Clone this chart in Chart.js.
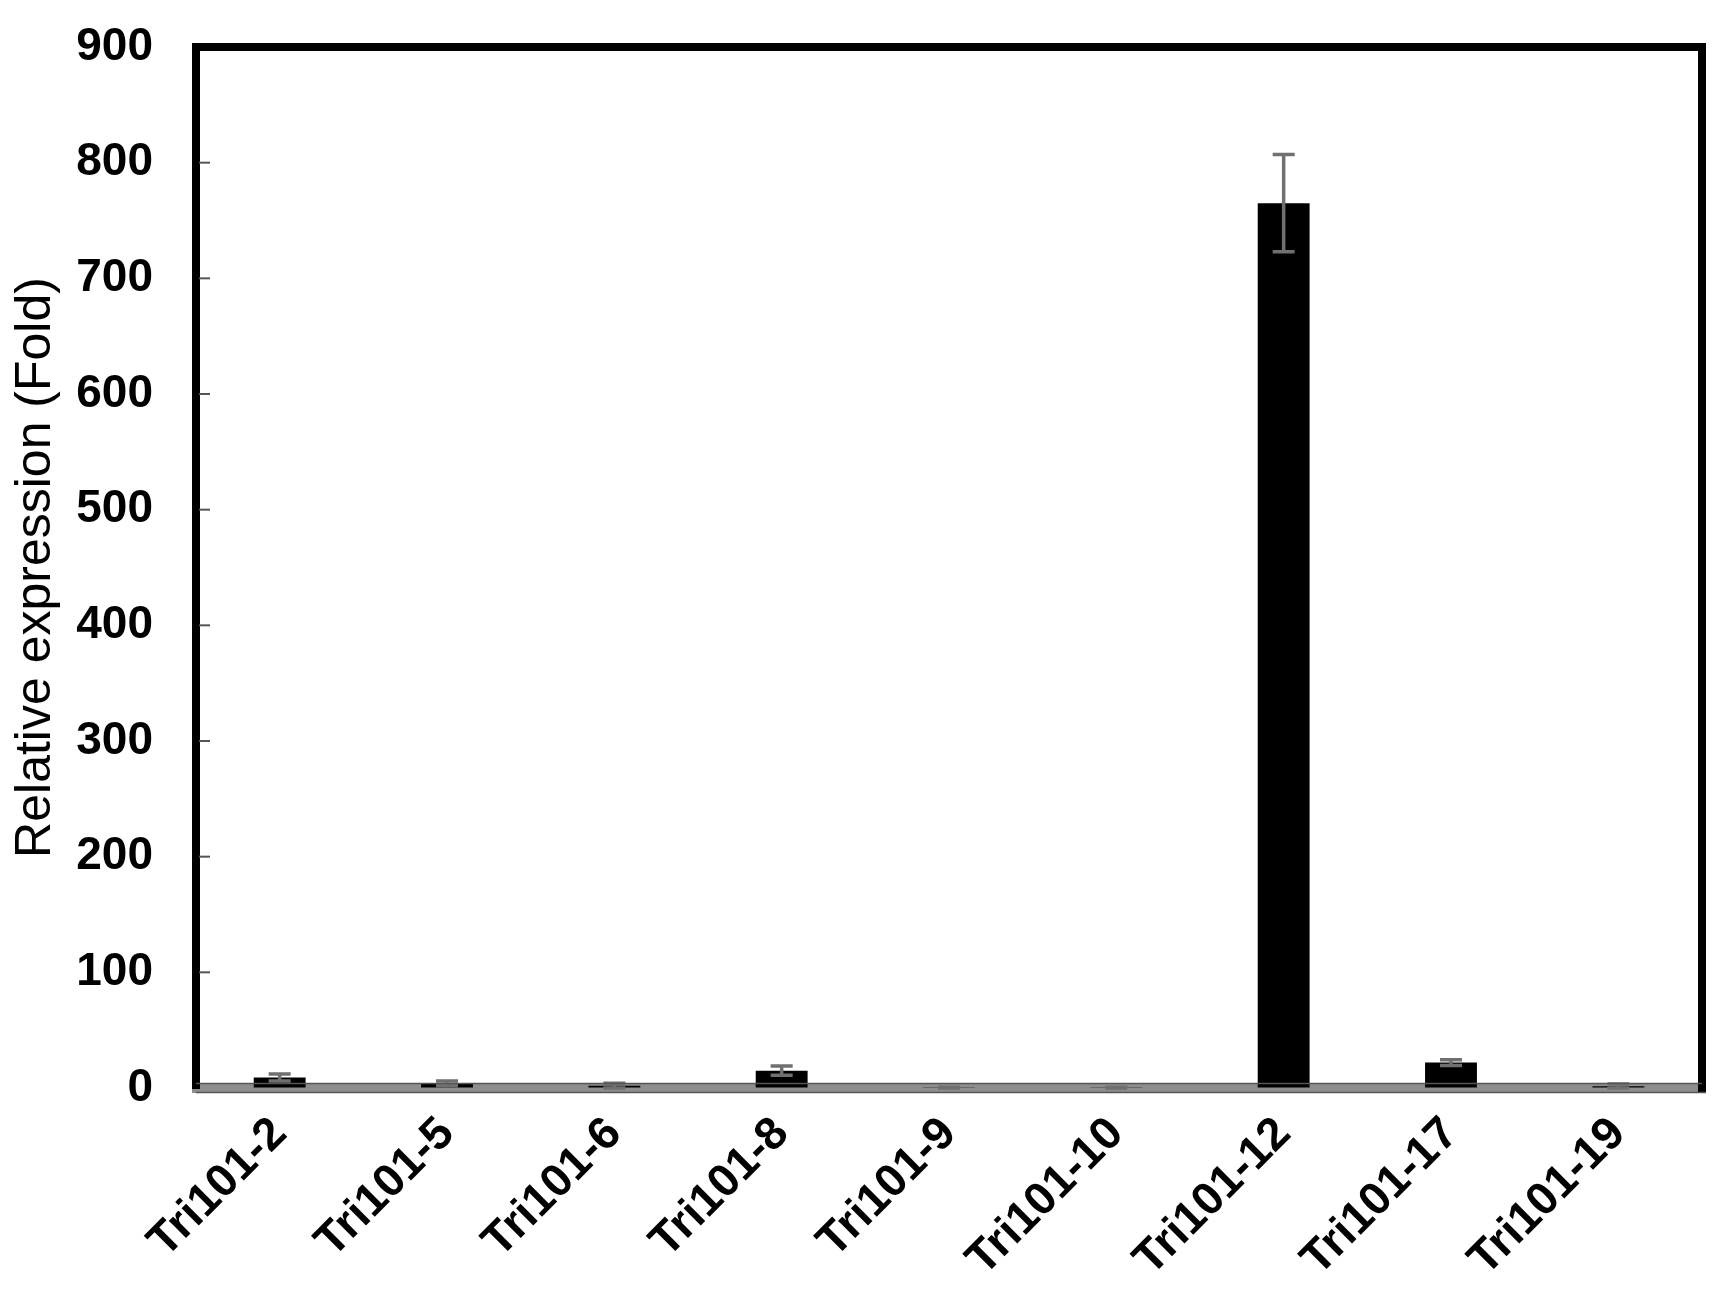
<!DOCTYPE html>
<html>
<head>
<meta charset="utf-8">
<script src="https://cdn.jsdelivr.net/npm/chart.js@4"></script>
<style>
  html, body { margin: 0; padding: 0; background: #fff; }
  #wrap { width: 1728px; height: 1305px; }
</style>
</head>
<body>
<div id="wrap"><canvas id="c" width="1728" height="1305"></canvas></div>
<script>
const categories = ["Tri101-2", "Tri101-5", "Tri101-6", "Tri101-8", "Tri101-9", "Tri101-10", "Tri101-12", "Tri101-17", "Tri101-19"];
const expression = [9, 4, 2, 15, 0.3, 0.3, 765, 22, 1.5];
const errors = [3, 2, 2, 4, 0.3, 0.3, 42, 2.5, 2];
const yTicks = [0, 100, 200, 300, 400, 500, 600, 700, 800, 900];
const yTitle = "Relative expression (Fold)";

const FONT = "'Liberation Sans', Arial, Helvetica, sans-serif";

const framePlugin = {
  id: 'frame',
  afterDatasetsDraw(chart) {
    const ctx = chart.ctx;
    const y = chart.scales.y;
    const meta = chart.getDatasetMeta(0);
    ctx.save();
    ctx.strokeStyle = '#707070';
    ctx.lineWidth = 3.5;
    meta.data.forEach((bar, i) => {
      const v = expression[i], e = errors[i];
      const yt = y.getPixelForValue(v + e);
      const yb = y.getPixelForValue(Math.max(0, v - e));
      const x = bar.x;
      ctx.beginPath();
      ctx.moveTo(x, yt); ctx.lineTo(x, yb);
      ctx.moveTo(x - 11, yt); ctx.lineTo(x + 11, yt);
      ctx.moveTo(x - 11, yb); ctx.lineTo(x + 11, yb);
      ctx.stroke();
    });
    ctx.restore();
  },
  afterDraw(chart) {
    const ctx = chart.ctx;
    const a = chart.chartArea;
    const y = chart.scales.y;
    ctx.save();
    ctx.strokeStyle = '#555';
    ctx.lineWidth = 2;
    y.ticks.forEach(t => {
      const py = y.getPixelForValue(t.value);
      if (t.value === 0 || t.value === 900) return;
      ctx.beginPath();
      ctx.moveTo(a.left + 3, py); ctx.lineTo(a.left + 14, py);
      ctx.stroke();
    });
    ctx.strokeStyle = '#000';
    ctx.lineWidth = 8;
    ctx.lineCap = 'square';
    ctx.beginPath();
    ctx.moveTo(a.left, a.top);
    ctx.lineTo(a.right, a.top);
    ctx.lineTo(a.right, a.bottom);
    ctx.stroke();
    ctx.lineCap = 'butt';
    ctx.strokeStyle = '#555';
    ctx.lineWidth = 1.5;
    ctx.beginPath();
    ctx.moveTo(a.left, a.bottom - 4.5); ctx.lineTo(a.right, a.bottom - 4.5);
    ctx.moveTo(a.left, a.bottom + 4.5); ctx.lineTo(a.right + 4, a.bottom + 4.5);
    ctx.stroke();
    ctx.restore();
  }
};

new Chart(document.getElementById('c'), {
  type: 'bar',
  data: {
    labels: categories,
    datasets: [{
      data: expression,
      backgroundColor: '#000',
      borderWidth: 0,
      barPercentage: 0.31,
      categoryPercentage: 1.0
    }]
  },
  options: {
    responsive: false,
    devicePixelRatio: 1,
    animation: false,
    layout: { padding: { left: 0, top: 47, right: 26, bottom: 0 } },
    plugins: { legend: { display: false }, tooltip: { enabled: false } },
    scales: {
      x: {
        z: 1,
        grid: { display: true, drawOnChartArea: false, drawTicks: false },
        border: { display: true, color: '#8e8e8e', width: 9 },
        ticks: {
          autoSkip: false,
          maxRotation: 45,
          minRotation: 45,
          padding: 19,
          color: '#000',
          font: { family: FONT, size: 46, weight: 'bold' }
        },
        afterFit(scale) { scale.height = 217; }
      },
      y: {
        min: 0,
        max: 900,
        afterBuildTicks(scale) { scale.ticks = yTicks.map(v => ({ value: v })); },
        grid: { display: true, drawOnChartArea: false, drawTicks: true, tickLength: 33, tickColor: 'rgba(0,0,0,0)' },
        border: { display: true, color: '#000', width: 8 },
        ticks: {
          padding: 10,
          color: '#000',
          font: { family: FONT, size: 46, weight: 'bold' }
        },
        title: {
          display: true,
          text: yTitle,
          color: '#000',
          padding: { top: 6, bottom: 0 },
          font: { family: FONT, size: 50, weight: 'normal' }
        },
        afterFit(scale) { scale.width = 196; }
      }
    }
  },
  plugins: [framePlugin]
});
</script>
</body>
</html>
